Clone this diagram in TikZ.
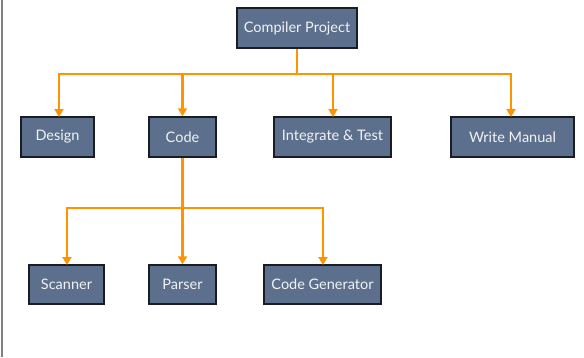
\documentclass[tikz,border=0pt]{standalone}
\usepackage{fontspec}
\setmainfont{Lato}
\usetikzlibrary{arrows.meta}
\definecolor{boxfill}{RGB}{92,112,142}
\definecolor{boxline}{RGB}{25,28,35}
\definecolor{conn}{RGB}{255,148,0}
\definecolor{txt}{RGB}{242,242,242}
\tikzset{
  box/.style={draw=boxline, line width=1.4pt, fill=boxfill, text=txt, minimum height=40pt, inner sep=0pt, font=\fontsize{14.5}{16}\selectfont},
  link/.style={draw=conn, line width=2.4pt, -{Triangle[length=8pt,width=9pt]}},
  plain/.style={draw=conn, line width=2.4pt},
}
\begin{document}
\begin{tikzpicture}[x=1pt,y=-1pt]
\useasboundingbox (0,0) rectangle (584,357);
\draw[line width=2pt, draw=gray] (2,0) -- (2,357);
\node[box, minimum width=120pt] (cp) at (297,28) {Compiler Project};
\node[box, minimum width=73pt] (design) at (57.5,137) {Design};
\node[box, minimum width=67pt] (code) at (182.5,137) {Code};
\node[box, minimum width=117pt] (integ) at (332.5,137) {Integrate \& Test};
\node[box, minimum width=123pt] (manual) at (512.5,137) {Write Manual};
\node[box, minimum width=75pt, minimum height=39pt] (scanner) at (66.5,284.5) {Scanner};
\node[box, minimum width=67pt, minimum height=39pt] (parser) at (182.5,284.5) {Parser};
\node[box, minimum width=117pt, minimum height=39pt] (codegen) at (322.5,284.5) {Code Generator};
\coordinate (j1) at (297,74);
\coordinate (j2) at (182.5,208);
\draw[plain] (cp.south) -- (j1);
\draw[plain] (58,74) -- (512,74);
\draw[link] (59,73) -- (59,117);
\draw[link] (182.5,74) -- (code.north);
\draw[link] (333,74) -- (333,117);
\draw[link] (511,73) -- (511,117);
\draw[plain] (code.south) -- (j2);
\draw[plain] (66,208) -- (324,208);
\draw[link] (67,207) -- (67,265);
\draw[link] (j2) -- (parser.north);
\draw[link] (323,207) -- (323,265);
\end{tikzpicture}
\end{document}
